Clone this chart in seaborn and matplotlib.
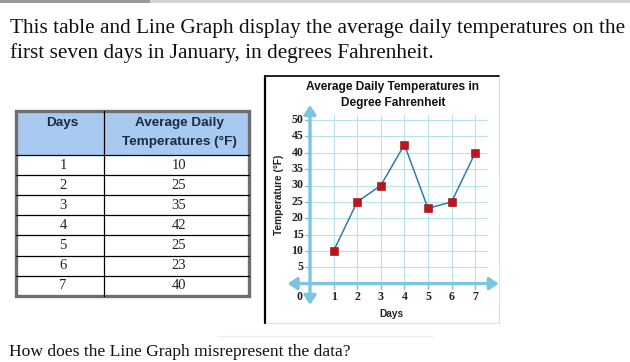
import numpy as np
import pandas as pd
import matplotlib
matplotlib.use("Agg")
import matplotlib.pyplot as plt
import seaborn as sns
from matplotlib.patches import Rectangle

# table values (what the table says)
days = [1, 2, 3, 4, 5, 6, 7]
table_temps = [10, 25, 35, 42, 25, 23, 40]
# values as plotted on the line graph
graph_temps = [10, 25, 30, 42.5, 23, 25, 40]
y_ticks = [5, 10, 15, 20, 25, 30, 35, 40, 45, 50]

intro_lines = ["This table and Line Graph display the average daily temperatures on the",
               "first seven days in January, in degrees Fahrenheit."]
question = "How does the Line Graph misrepresent the data?"

SERIF = "Liberation Serif"
SANS = "Liberation Sans"
AXIS_BLUE = "#7cc4e2"
GRID_BLUE = "#b8e2ee"
HEADER_BLUE = "#a9caf0"

sns.set_theme(style="white")

W, H = 630, 362
fig = plt.figure(figsize=(W / 100, H / 100), dpi=100)
fig.patch.set_facecolor("white")

# background axes in pixel coordinates for text and table
bg = fig.add_axes([0, 0, 1, 1])
bg.set_xlim(0, W)
bg.set_ylim(H, 0)
bg.axis("off")

# thin grey strip at the very top
bg.add_patch(Rectangle((0, 0), W, 2.5, color="#d4d4d4", lw=0))
bg.add_patch(Rectangle((0, 0), 150, 2.5, color="#9a9a9a", lw=0))

for i, line in enumerate(intro_lines):
    bg.text(10, 28 + i * 25, line, family=SERIF, fontsize=15.3, color="#111111",
            va="center", ha="left")

bg.plot([218, 433], [336, 336], color="#ececec", lw=0.8)
bg.text(9, 352, question, family=SERIF, fontsize=12.6, color="#111111",
        va="center", ha="left")

# ---- table ----
t_left, t_right, t_top, t_head, row_h = 16, 249, 111, 155, 20.1
col_x = 104
bg.add_patch(Rectangle((t_left, t_top), t_right - t_left, t_head - t_top,
                       facecolor=HEADER_BLUE, lw=0))
for r in range(1, 7):
    y = t_head + r * row_h
    bg.plot([t_left, t_right], [y, y], color="black", lw=0.9)
bg.plot([t_left, t_right], [t_head, t_head], color="black", lw=0.9)
t_bottom = t_head + 7 * row_h
bg.plot([col_x, col_x], [t_top, t_bottom], color="black", lw=0.9)
bg.add_patch(Rectangle((t_left, t_top), t_right - t_left, t_bottom - t_top,
                       facecolor="none", edgecolor="#6e6e6e", lw=2.4))

bg.text(62, 123, "Days", family=SANS, weight="bold", fontsize=9.7,
        color="#1a2a40", ha="center", va="center")
bg.text(179, 123, "Average Daily", family=SANS, weight="bold", fontsize=9.7,
        color="#1a2a40", ha="center", va="center")
bg.text(179, 142, "Temperatures (°F)", family=SANS, weight="bold", fontsize=9.7,
        color="#1a2a40", ha="center", va="center")
for r, (d, t) in enumerate(zip(days, table_temps)):
    yc = t_head + (r + 0.5) * row_h
    bg.text(63, yc, str(d), family=SERIF, fontsize=10.5, color="#222222",
            ha="center", va="center")
    bg.text(179, yc, str(t), family=SERIF, fontsize=10.5, color="#222222",
            ha="center", va="center")

# ---- graph frame ----
bg.plot([265, 499, 499, 265, 265], [76, 76, 323, 323, 76], color="#e0e0e0", lw=0.8)
bg.plot([265, 265], [323, 76], color="black", lw=1.6)
bg.plot([265, 499], [76, 76], color="black", lw=1.2)
bg.text(393, 87, "Average Daily Temperatures in", family=SANS, weight="bold",
        fontsize=8.6, color="#111111", ha="center", va="center")
bg.text(393, 103, "Degree Fahrenheit", family=SANS, weight="bold",
        fontsize=8.6, color="#111111", ha="center", va="center")

# ---- line chart axes ----
x0_px, px_per_day = 310, 23.6
y0_px, px_per_deg = 283.6, 3.27
xlim = (-1.1, 8.05)
ylim = (-7, 56)
left = x0_px + xlim[0] * px_per_day
right = x0_px + xlim[1] * px_per_day
top = y0_px - ylim[1] * px_per_deg
bottom = y0_px - ylim[0] * px_per_deg
ax = fig.add_axes([left / W, 1 - bottom / H, (right - left) / W, (bottom - top) / H])
ax.set_xlim(*xlim)
ax.set_ylim(*ylim)
ax.axis("off")
ax.patch.set_alpha(0)

ax.hlines(y_ticks, 0, 7.5, color=GRID_BLUE, lw=0.8, zorder=1)
ax.vlines(days, 0, 52, color=GRID_BLUE, lw=0.8, zorder=1)

arrow = dict(arrowstyle="<|-|>,head_length=0.45,head_width=0.3", color=AXIS_BLUE,
             lw=2.4, shrinkA=0, shrinkB=0)
ax.annotate("", xy=(8.0, 0), xytext=(-0.95, 0), arrowprops=arrow, zorder=2,
            annotation_clip=False)
ax.annotate("", xy=(0, 54.6), xytext=(0, -6.5), arrowprops=arrow, zorder=2,
            annotation_clip=False)

# tick dashes and labels
for v in y_ticks:
    ax.plot([-0.22, 0], [v, v], color=AXIS_BLUE, lw=1, zorder=2)
    ax.text(-0.28, v, str(v), family=SERIF, weight="bold", fontsize=8.6,
            color="#222222", ha="right", va="center")
for d in days:
    ax.plot([d, d], [0, -1.5], color=AXIS_BLUE, lw=1, zorder=2)
    ax.text(d, -4, str(d), family=SERIF, weight="bold", fontsize=8.6,
            color="#222222", ha="center", va="center")
ax.text(-0.45, -4, "0", family=SERIF, weight="bold", fontsize=8.6,
        color="#222222", ha="center", va="center")

df = pd.DataFrame({"Day": days, "Temp": graph_temps})
sns.lineplot(data=df, x="Day", y="Temp", ax=ax, color="#2f7ca8", lw=1.1, zorder=3)
sns.scatterplot(data=df, x="Day", y="Temp", ax=ax, marker="s", s=34,
                color="#c0141c", edgecolor="#8a0e12", linewidth=0.4, zorder=4)
ax.axis("off")

ax.text(x=(391 - x0_px) / px_per_day, y=(y0_px - 314) / px_per_deg, s="Days",
        family=SANS, weight="bold", fontsize=7.3, color="#222222",
        ha="center", va="center")
ax.text(x=(279 - x0_px) / px_per_day, y=(y0_px - 195) / px_per_deg,
        s="Temperature (°F)", family=SANS, weight="bold", fontsize=7.3,
        color="#222222", ha="center", va="center", rotation=90)

fig.savefig("out.png", dpi=100)
